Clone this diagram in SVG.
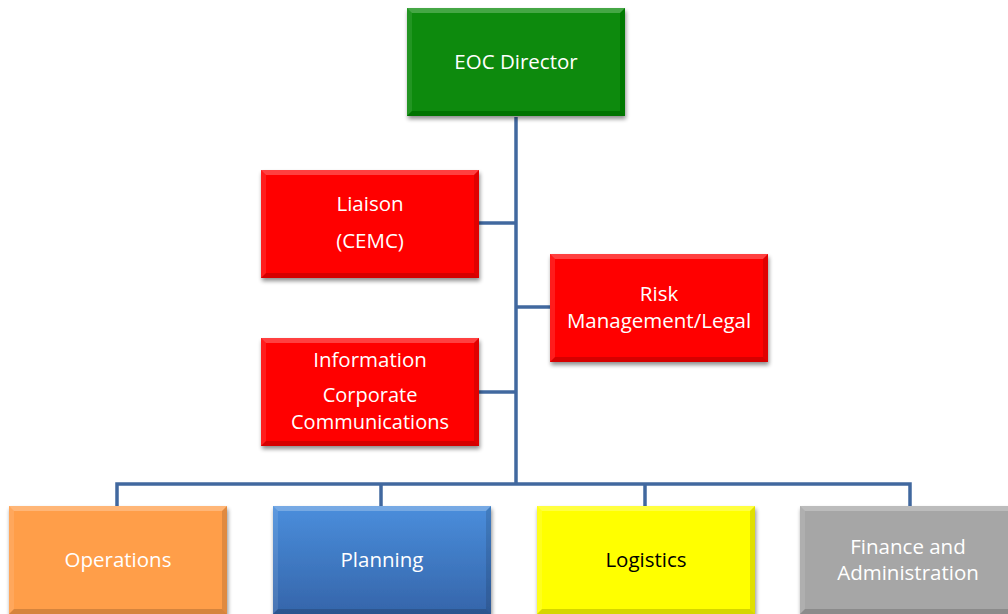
<svg xmlns="http://www.w3.org/2000/svg" xmlns:xlink="http://www.w3.org/1999/xlink" width="1008" height="614" viewBox="0 0 1008 614">
<defs>
  <filter id="sh" x="-10%" y="-10%" width="125%" height="130%">
    <feGaussianBlur in="SourceAlpha" stdDeviation="2"/>
    <feOffset dx="1" dy="3" result="b"/>
    <feComponentTransfer><feFuncA type="linear" slope="0.45"/></feComponentTransfer>
    <feMerge><feMergeNode/><feMergeNode in="SourceGraphic"/></feMerge>
  </filter>
  <linearGradient id="blue" x1="0" y1="0" x2="0" y2="1">
    <stop offset="0" stop-color="#4A8EDC"/>
    <stop offset="1" stop-color="#3565AA"/>
  </linearGradient>
  <g id="bevel">
    <polygon points="0,0 218,0 213,5 5,5" fill="#fff" fill-opacity="0.25"/>
    <polygon points="0,0 5,5 5,103 0,108" fill="#fff" fill-opacity="0.1"/>
    <polygon points="218,0 218,108 213,103 213,5" fill="#000" fill-opacity="0.12"/>
    <polygon points="0,108 218,108 213,103 5,103" fill="#000" fill-opacity="0.16"/>
  </g>
</defs>
<style>
  .box { filter: url(#sh); }
  .t { font-family: "Open Sans", "Liberation Sans", sans-serif; font-size: 20.5px; fill: #ffffff; text-anchor: middle; }
  .s { font-size: 20px; }
  .dark { fill: #000000; }
  .con { stroke: #41689F; stroke-width: 3.5; fill: none; }
</style>
<rect width="1008" height="614" fill="#ffffff"/>
<g id="connectors">
  <path class="con" d="M516,117 V484"/>
  <path class="con" d="M478,223 H516"/>
  <path class="con" d="M516,307 H550"/>
  <path class="con" d="M478,392 H516"/>
  <path class="con" d="M117,506 V484 H910 V506"/>
  <path class="con" d="M381,484 V506"/>
  <path class="con" d="M645,484 V506"/>
</g>
<g id="eoc-director" transform="translate(407,8)">
  <g class="box"><rect width="218" height="108" fill="#078A07"/><use xlink:href="#bevel"/></g>
  <text class="t" x="109" y="61">EOC Director</text>
</g>
<g id="liaison" transform="translate(261,170)">
  <g class="box"><rect width="218" height="108" fill="#FF0000"/><use xlink:href="#bevel"/></g>
  <text class="t" x="109" y="41">Liaison</text>
  <text class="t" x="109" y="78">(CEMC)</text>
</g>
<g id="risk" transform="translate(550,254)">
  <g class="box"><rect width="218" height="108" fill="#FF0000"/><use xlink:href="#bevel"/></g>
  <text class="t" x="109" y="47">Risk</text>
  <text class="t" x="109" y="74">Management/Legal</text>
</g>
<g id="information" transform="translate(261,338)">
  <g class="box"><rect width="218" height="108" fill="#FF0000"/><use xlink:href="#bevel"/></g>
  <text class="t" x="109" y="29">Information</text>
  <text class="t s" x="109" y="64">Corporate</text>
  <text class="t s" x="109" y="91">Communications</text>
</g>
<g id="operations" transform="translate(9,506)">
  <g class="box"><rect width="218" height="108" fill="#FF9E4A"/><use xlink:href="#bevel"/></g>
  <text class="t" x="109" y="61">Operations</text>
</g>
<g id="planning" transform="translate(273,506)">
  <g class="box"><rect width="218" height="108" fill="url(#blue)"/><use xlink:href="#bevel"/></g>
  <text class="t" x="109" y="61">Planning</text>
</g>
<g id="logistics" transform="translate(537,506)">
  <g class="box"><rect width="218" height="108" fill="#FFFF00"/><use xlink:href="#bevel"/></g>
  <text class="t dark" x="109" y="61">Logistics</text>
</g>
<g id="finance" transform="translate(800,506)">
  <g class="box"><rect width="218" height="108" fill="#A6A6A6"/><use xlink:href="#bevel"/></g>
  <text class="t" x="108" y="48">Finance and</text>
  <text class="t" x="108" y="74">Administration</text>
</g>
</svg>
